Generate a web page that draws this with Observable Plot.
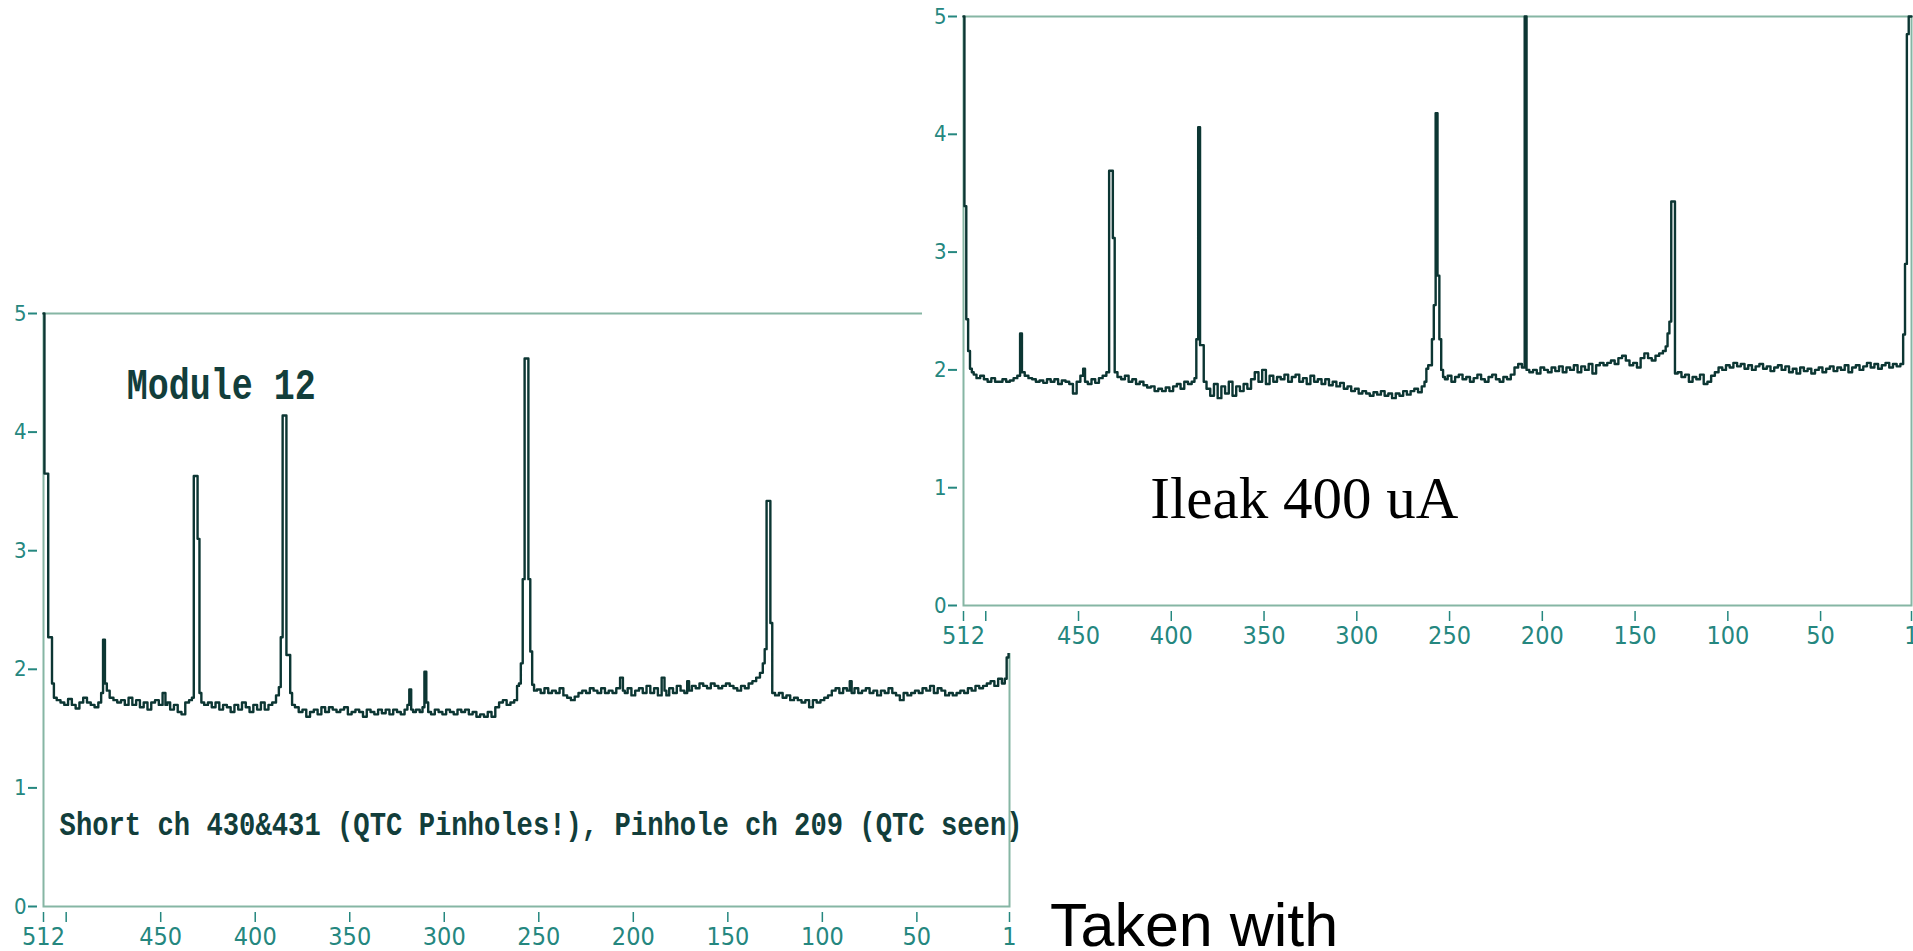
<!DOCTYPE html>
<html><head><meta charset="utf-8">
<script src="https://cdn.jsdelivr.net/npm/d3@7"></script>
<script src="https://cdn.jsdelivr.net/npm/@observablehq/plot@0.6"></script>
<style>
html,body{margin:0;padding:0;background:#fff;}
#page{position:relative;width:1913px;height:951px;overflow:hidden;background:#fff;}
#left{position:absolute;left:0;top:290px;width:1040px;height:661px;}
#right{position:absolute;left:922px;top:0;width:991px;height:653px;background:#fff;}
#taken{position:absolute;left:1050px;top:895px;font-family:"Liberation Sans",Arial,sans-serif;font-size:61px;line-height:1;color:#000;white-space:nowrap;}
</style>
</head><body>
<div id="page">
  <div id="left"></div>
  <div id="right"></div>
  <div id="taken">Taken with</div>
</div>
<script>
// ---- data (channel, value) ----
const leftSeries = [
[512,5],[511,3.65],[510,3.65],[509,2.27],[508,2.27],[507,1.88],[506,1.76],[504,1.74],[502,1.72],[500,1.70],[498,1.75],[496,1.70],[494,1.67],[492,1.72],[490,1.76],[488,1.72],[486,1.70],[484,1.68],[482,1.72],[481,1.80],[480,2.25],[479,1.88],[478,1.82],[476,1.76],[474,1.74],[472,1.72],[470,1.74],[468,1.70],[466,1.76],[464,1.70],[462,1.74],[460,1.68],[458,1.72],[456,1.66],[454,1.72],[452,1.74],[450,1.70],[448,1.80],[447,1.70],[446,1.72],[444,1.66],[442,1.70],[440,1.64],[438,1.62],[436,1.72],[434,1.74],[433,1.76],[432,3.63],[431,3.63],[430,3.10],[429,1.80],[428,1.72],[426,1.70],[424,1.72],[422,1.68],[420,1.72],[418,1.66],[416,1.70],[414,1.68],[412,1.64],[410,1.70],[408,1.66],[406,1.72],[404,1.68],[402,1.64],[400,1.70],[398,1.66],[396,1.72],[394,1.66],[392,1.70],[390,1.72],[388,1.78],[387,1.85],[386,2.27],[385,4.14],[384,4.14],[383,2.12],[382,2.12],[381,1.80],[380,1.70],[378,1.68],[376,1.64],[374,1.66],[372,1.60],[370,1.64],[368,1.66],[366,1.62],[364,1.68],[362,1.64],[360,1.68],[358,1.66],[356,1.64],[354,1.66],[352,1.68],[350,1.62],[348,1.64],[346,1.66],[344,1.64],[342,1.60],[340,1.66],[338,1.64],[336,1.62],[334,1.66],[332,1.63],[330,1.66],[328,1.62],[326,1.66],[324,1.64],[322,1.62],[320,1.66],[319,1.70],[318,1.83],[317,1.66],[316,1.64],[314,1.66],[312,1.64],[311,1.68],[310,1.98],[309,1.72],[308,1.64],[306,1.62],[304,1.66],[302,1.64],[300,1.62],[298,1.66],[296,1.64],[294,1.62],[292,1.66],[290,1.64],[288,1.66],[286,1.62],[284,1.64],[282,1.60],[280,1.62],[278,1.60],[276,1.64],[274,1.60],[272,1.68],[270,1.72],[268,1.74],[266,1.70],[264,1.72],[262,1.74],[261,1.86],[260,1.88],[259,2.05],[258,2.76],[257,4.62],[256,4.62],[255,2.76],[254,2.15],[253,1.87],[252,1.82],[250,1.83],[248,1.80],[246,1.84],[244,1.80],[242,1.82],[240,1.80],[238,1.84],[236,1.78],[234,1.76],[232,1.74],[230,1.77],[228,1.80],[226,1.82],[224,1.80],[222,1.84],[220,1.82],[218,1.80],[216,1.84],[214,1.80],[212,1.82],[210,1.80],[208,1.84],[206,1.93],[205,1.82],[204,1.80],[202,1.84],[200,1.78],[198,1.82],[196,1.84],[194,1.80],[192,1.86],[190,1.80],[188,1.84],[186,1.78],[184,1.93],[183,1.82],[182,1.78],[180,1.84],[178,1.80],[176,1.86],[174,1.82],[172,1.80],[171,1.90],[170,1.82],[168,1.86],[166,1.84],[164,1.88],[162,1.86],[160,1.84],[158,1.88],[156,1.86],[154,1.84],[152,1.86],[150,1.88],[148,1.86],[146,1.84],[144,1.82],[142,1.86],[140,1.84],[138,1.88],[136,1.90],[134,1.93],[132,1.97],[131,2.05],[130,2.17],[129,3.42],[128,3.42],[127,2.39],[126,1.80],[124,1.78],[122,1.80],[120,1.76],[118,1.78],[116,1.74],[114,1.76],[112,1.74],[110,1.72],[108,1.74],[106,1.68],[104,1.74],[102,1.72],[100,1.74],[98,1.76],[96,1.78],[94,1.82],[92,1.84],[90,1.80],[88,1.84],[86,1.82],[85,1.90],[84,1.80],[82,1.84],[80,1.80],[78,1.82],[76,1.84],[74,1.80],[72,1.82],[70,1.78],[68,1.82],[66,1.80],[64,1.84],[62,1.80],[60,1.78],[58,1.74],[56,1.80],[54,1.78],[52,1.80],[50,1.82],[48,1.80],[46,1.84],[44,1.82],[42,1.86],[40,1.80],[38,1.84],[36,1.82],[34,1.78],[32,1.80],[30,1.78],[28,1.80],[26,1.82],[24,1.80],[22,1.84],[20,1.82],[18,1.86],[16,1.84],[14,1.86],[12,1.88],[10,1.90],[8,1.86],[6,1.92],[4,1.88],[3,1.92],[2,2.10],[1,2.15]
];
const rightSeries = [
[512,5],[511,3.39],[510,2.43],[509,2.16],[508,2.01],[507,1.98],[506,1.96],[504,1.93],[502,1.95],[500,1.92],[498,1.90],[496,1.93],[494,1.90],[492,1.90],[490,1.92],[488,1.90],[486,1.91],[484,1.93],[482,1.95],[481,2.31],[480,1.98],[478,1.95],[476,1.93],[474,1.92],[472,1.90],[470,1.91],[468,1.89],[466,1.92],[464,1.90],[462,1.92],[460,1.88],[458,1.91],[456,1.90],[454,1.88],[452,1.80],[450,1.90],[448,1.95],[447,2.01],[446,1.90],[444,1.88],[442,1.92],[440,1.89],[438,1.93],[436,1.95],[434,1.98],[433,3.69],[432,3.69],[431,3.12],[430,1.98],[428,1.94],[426,1.92],[424,1.95],[422,1.90],[420,1.92],[418,1.88],[416,1.90],[414,1.87],[412,1.85],[410,1.86],[408,1.82],[406,1.84],[404,1.82],[402,1.85],[400,1.82],[398,1.86],[396,1.88],[394,1.84],[392,1.90],[390,1.88],[388,1.90],[387,1.93],[386,2.26],[385,4.06],[384,2.21],[383,2.21],[382,1.90],[380,1.84],[378,1.78],[376,1.88],[374,1.76],[372,1.86],[370,1.80],[368,1.90],[366,1.78],[364,1.86],[362,1.82],[360,1.88],[358,1.84],[356,1.92],[354,1.98],[352,1.90],[350,2.00],[348,1.88],[346,1.95],[344,1.90],[342,1.94],[340,1.92],[338,1.96],[336,1.90],[334,1.94],[332,1.96],[330,1.90],[328,1.93],[326,1.88],[324,1.95],[322,1.90],[320,1.92],[318,1.88],[316,1.92],[314,1.87],[312,1.90],[310,1.86],[308,1.89],[306,1.84],[304,1.86],[302,1.82],[300,1.84],[298,1.80],[296,1.82],[294,1.80],[292,1.78],[290,1.81],[288,1.79],[286,1.82],[284,1.78],[282,1.80],[280,1.76],[278,1.80],[276,1.78],[274,1.82],[272,1.79],[270,1.82],[268,1.84],[266,1.81],[264,1.86],[263,1.90],[262,2.01],[261,2.04],[260,2.04],[259,2.26],[258,2.55],[257,4.18],[256,2.80],[255,2.26],[254,2.00],[253,1.94],[252,1.92],[250,1.95],[248,1.90],[246,1.94],[244,1.96],[242,1.92],[240,1.94],[238,1.90],[236,1.93],[234,1.96],[232,1.92],[230,1.90],[228,1.94],[226,1.96],[224,1.92],[222,1.90],[220,1.94],[218,1.92],[216,1.96],[214,2.02],[212,2.05],[210,2.02],[209,5],[208,2.00],[206,1.98],[204,2.00],[202,1.97],[200,2.02],[198,2.00],[196,1.98],[194,2.02],[192,1.99],[190,2.03],[188,1.98],[186,2.02],[184,2.00],[182,2.04],[180,1.98],[178,2.03],[176,2.00],[174,2.05],[172,1.97],[170,2.04],[168,2.06],[166,2.04],[164,2.06],[162,2.08],[160,2.05],[158,2.10],[156,2.12],[154,2.08],[152,2.04],[150,2.06],[148,2.02],[146,2.10],[144,2.14],[142,2.10],[140,2.08],[138,2.12],[136,2.14],[134,2.16],[133,2.20],[132,2.31],[131,2.41],[130,3.43],[129,3.43],[128,1.97],[126,1.98],[124,1.94],[122,1.96],[120,1.90],[118,1.94],[116,1.92],[114,1.96],[112,1.88],[110,1.90],[108,1.95],[106,1.98],[104,2.02],[102,2.00],[100,2.04],[98,2.02],[96,2.06],[94,2.03],[92,2.05],[90,2.01],[88,2.04],[86,2.00],[84,2.03],[82,2.05],[80,2.01],[78,2.03],[76,1.99],[74,2.02],[72,2.04],[70,2.00],[68,2.03],[66,1.98],[64,2.01],[62,1.97],[60,2.02],[58,1.99],[56,2.01],[54,1.97],[52,2.00],[50,2.02],[48,1.98],[46,2.01],[44,2.03],[42,1.99],[40,2.02],[38,2.00],[36,2.04],[34,1.98],[32,2.02],[30,2.04],[28,2.00],[26,2.03],[24,2.06],[22,2.02],[20,2.05],[18,2.01],[16,2.04],[14,2.06],[12,2.02],[10,2.05],[8,2.03],[6,2.05],[5,2.30],[4,2.90],[3,4.85],[2,5],[1,5]
];
const xTicks = [512, 500, 450, 400, 350, 300, 250, 200, 150, 100, 50, 1];
const xTickLabels = ["512", "", "450", "400", "350", "300", "250", "200", "150", "100", "50", "1"];
const yTicks = [0, 1, 2, 3, 4, 5];
const yTickLabels = ["0", "1", "2", "3", "4", "5"];
const leftTitle = [{ch: 468, v: 4.28, label: "Module 12"}];
const leftCaption = [{ch: 503.5, v: 0.60, label: "Short ch 430&431 (QTC Pinholes!), Pinhole ch 209 (QTC seen)"}];
const rightNote = [{ch: 411.3, v: 0.747, label: "Ileak 400 uA"}];

// ---- styling ----
const axisColor = "#25877f";
const frameColor = "#86b6a4";
const lineColor = "#0c3633";
const tickFont = '"Liberation Sans Narrow","DejaVu Sans Condensed","Arial Narrow","Liberation Sans",sans-serif';
const fmtX = d => xTickLabels[xTicks.indexOf(d)];
const fmtY = d => yTickLabels[yTicks.indexOf(d)];

function baseMarks(series) {
  return [
    Plot.frame({stroke: frameColor, strokeWidth: 2}),
    Plot.axisX({ticks: xTicks, tickFormat: fmtX, tickSize: 10, tickPadding: 5, dy: 6,
      fontSize: 25, color: axisColor, strokeWidth: 1.5, label: null}),
    Plot.axisY({ticks: yTicks, tickFormat: fmtY, tickSize: 9, tickPadding: 2, dx: -6,
      fontSize: 22, color: axisColor, strokeWidth: 2, label: null}),
    Plot.line(series, {x: d => d[0], y: d => d[1], curve: "step", stroke: lineColor, strokeWidth: 2.4})
  ];
}

const leftPlot = Plot.plot({
  width: 1040, height: 661,
  marginLeft: 43, marginRight: 31, marginTop: 23, marginBottom: 45,
  x: {domain: [512, 1]},
  y: {domain: [0, 5]},
  style: {fontFamily: tickFont, background: "transparent", overflow: "visible", maxWidth: "none"},
  marks: [
    ...baseMarks(leftSeries),
    Plot.text(leftTitle, {x: "ch", y: "v", text: "label", textAnchor: "start", lineAnchor: "bottom",
      fontFamily: '"Liberation Mono","Courier New",monospace', fontWeight: "bold", fontSize: 44, fill: "#123e3b"}),
    Plot.text(leftCaption, {x: "ch", y: "v", text: "label", textAnchor: "start", lineAnchor: "bottom",
      fontFamily: '"Liberation Mono","Courier New",monospace', fontWeight: "bold", fontSize: 34, fill: "#123e3b"})
  ]
});

const rightPlot = Plot.plot({
  width: 991, height: 653,
  marginLeft: 41, marginRight: 2, marginTop: 16, marginBottom: 48,
  x: {domain: [512, 1]},
  y: {domain: [0, 5]},
  style: {fontFamily: tickFont, background: "white", overflow: "visible", maxWidth: "none"},
  marks: [
    ...baseMarks(rightSeries),
    Plot.text(rightNote, {x: "ch", y: "v", text: "label", textAnchor: "start", lineAnchor: "bottom",
      fontFamily: '"Liberation Serif","Times New Roman",serif', fontSize: 59, fill: "#000"})
  ]
});

function fitText(svg, content, len) {
  d3.select(svg).selectAll("text").each(function() {
    if (this.textContent === content) {
      this.setAttribute("textLength", len);
      this.setAttribute("lengthAdjust", "spacingAndGlyphs");
    }
  });
}
fitText(leftPlot, leftTitle[0].label, 189);
fitText(leftPlot, leftCaption[0].label, 963);

document.getElementById("left").appendChild(leftPlot);
document.getElementById("right").appendChild(rightPlot);
</script>
</body></html>
